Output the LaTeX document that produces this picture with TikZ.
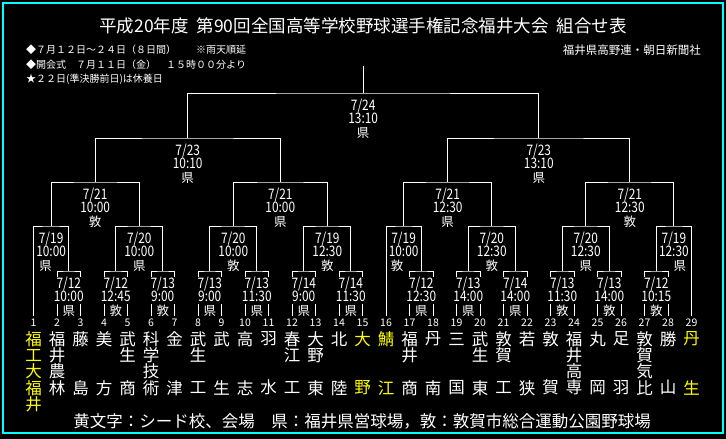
\documentclass[tikz,border=0pt]{standalone}
\usepackage{fontspec}
\setmainfont{Noto Sans CJK JP}
\usetikzlibrary{calc}
\definecolor{cyanb}{HTML}{00FFFF}
\definecolor{yel}{HTML}{FFFF00}
\newcommand\fsz[1]{\fontsize{#1}{#1}\selectfont}
\newcommand\narr[1]{\scalebox{0.82}[1]{#1}}
\newcommand\teamch[4][nm]{\node[#1] (c#2-#3) at ({33.5+(#2-1)*23.5},{339+(#3-1)*16.25}) {#4};}
\newcommand\matchlbl[5][0]{%
  \node[dt] (#2-d) at ($(#2)+(0,13)$) {\narr{#3}};
  \node[dt] (#2-t) at ($(#2)+(0,26.5)$) {\narr{#4}};
  \node[vn] (#2-v) at ($(#2)+(#1,40)$) {#5};}
\begin{document}
\begin{tikzpicture}[x=1pt,y=-1pt,
  ln/.style={draw=white,line width=1pt},
  dt/.style={fill=black,text=white,font=\fsz{14.5},inner xsep=0.3pt,inner ysep=0pt,text height=10pt,text depth=2pt,minimum height=13.5pt},
  vn/.style={fill=black,text=white,font=\fsz{12.5},inner sep=0.3pt},
  num/.style={text=white,font=\fsz{10.5},inner sep=0pt},
  nm/.style={text=white,font=\fsz{16.5},inner sep=0pt},
  seed/.style={nm,text=yel},
  hd/.style={text=white,font=\fsz{10},inner sep=0pt,anchor=west}]
\useasboundingbox (0,0) rectangle (726,439);
\fill[black] (0,0) rectangle (726,439);
\draw[cyanb,line width=1.5pt] (3,3) rectangle (723,433);

% header
\node[text=white,font=\fsz{17.5},inner sep=0pt] (title) at (363,26) {平成20年度\hspace{8pt}第90回全国高等学校野球選手権記念福井大会\hspace{8pt}組合せ表};
\node[hd] (h1) at (26,50) {◆７月１２日～２４日（８日間）　　※雨天順延};
\node[hd] (h2) at (26,65) {◆開会式　７月１１日（金）　１５時００分より};
\node[hd] (h3) at (26,79) {★２２日(準決勝前日)は休養日};
\node[text=white,font=\fsz{11.5},inner sep=0pt,anchor=east] (org) at (701,50) {福井県高野連・朝日新聞社};
\node[text=white,font=\fsz{16.5},inner sep=0pt] (legend) at (362,421) {黄文字：シード校、会場　県：福井県営球場，敦：敦賀市総合運動公園野球場};

% team line ends and numbers
\foreach \i in {1,...,29} {
  \coordinate (t\i) at ({33.5+(\i-1)*23.5},316);
  \node[num] (n\i) at ({33.5+(\i-1)*23.5},322.5) {\i};
}

% round 1 joints
\coordinate (p2) at (68.75,271);
\coordinate (p4) at (115.75,271);
\coordinate (p6) at (162.75,271);
\coordinate (p8) at (209.75,271);
\coordinate (p10) at (256.75,271);
\coordinate (p12) at (303.75,271);
\coordinate (p14) at (350.75,271);
\coordinate (p17) at (421.25,271);
\coordinate (p19) at (468.25,271);
\coordinate (p21) at (515.25,271);
\coordinate (p23) at (562.25,271);
\coordinate (p25) at (609.25,271);
\coordinate (p27) at (656.25,271);
% round 2
\coordinate (A) at (51.125,226);
\coordinate (B) at (139.25,226);
\coordinate (C) at (233.25,226);
\coordinate (D) at (327.25,226);
\coordinate (E) at (403.625,226);
\coordinate (F) at (491.75,226);
\coordinate (G) at (585.75,226);
\coordinate (H) at (673.875,226);
% round 3
\coordinate (AB) at (95.19,182);
\coordinate (CD) at (280.25,182);
\coordinate (EF) at (447.69,182);
\coordinate (GH) at (629.81,182);
% semifinals
\coordinate (SL) at (187.72,138);
\coordinate (SR) at (538.75,138);
% final
\coordinate (fin) at (363.2,93);
\coordinate (champ) at (363.2,66);

% connectors
\draw[ln] (t2) |- (p2) -| (t3);
\draw[ln] (t4) |- (p4) -| (t5);
\draw[ln] (t6) |- (p6) -| (t7);
\draw[ln] (t8) |- (p8) -| (t9);
\draw[ln] (t10) |- (p10) -| (t11);
\draw[ln] (t12) |- (p12) -| (t13);
\draw[ln] (t14) |- (p14) -| (t15);
\draw[ln] (t17) |- (p17) -| (t18);
\draw[ln] (t19) |- (p19) -| (t20);
\draw[ln] (t21) |- (p21) -| (t22);
\draw[ln] (t23) |- (p23) -| (t24);
\draw[ln] (t25) |- (p25) -| (t26);
\draw[ln] (t27) |- (p27) -| (t28);
\draw[ln] (t1) |- (A) -| (p2);
\draw[ln] (p4) |- (B) -| (p6);
\draw[ln] (p8) |- (C) -| (p10);
\draw[ln] (p12) |- (D) -| (p14);
\draw[ln] (t16) |- (E) -| (p17);
\draw[ln] (p19) |- (F) -| (p21);
\draw[ln] (p23) |- (G) -| (p25);
\draw[ln] (p27) |- (H) -| (t29);
\draw[ln] (A) |- (AB) -| (B);
\draw[ln] (C) |- (CD) -| (D);
\draw[ln] (E) |- (EF) -| (F);
\draw[ln] (G) |- (GH) -| (H);
\draw[ln] (AB) |- (SL) -| (CD);
\draw[ln] (EF) |- (SR) -| (GH);
\draw[ln] (SL) |- (fin) -| (SR);
\draw[ln] (fin) -- (champ);

% match labels
\matchlbl{p2}{7/12}{10:00}{県}
\matchlbl{p4}{7/12}{12:45}{敦}
\matchlbl{p6}{7/13}{9:00}{敦}
\matchlbl{p8}{7/13}{9:00}{県}
\matchlbl{p10}{7/13}{11:30}{県}
\matchlbl{p12}{7/14}{9:00}{県}
\matchlbl{p14}{7/14}{11:30}{県}
\matchlbl{p17}{7/12}{12:30}{県}
\matchlbl{p19}{7/13}{14:00}{県}
\matchlbl{p21}{7/14}{14:00}{県}
\matchlbl{p23}{7/13}{11:30}{敦}
\matchlbl{p25}{7/13}{14:00}{敦}
\matchlbl{p27}{7/12}{10:15}{敦}
\matchlbl[-5.5]{A}{7/19}{10:00}{県}
\matchlbl{B}{7/20}{10:00}{県}
\matchlbl{C}{7/20}{10:00}{敦}
\matchlbl{D}{7/19}{12:30}{敦}
\matchlbl[-6.5]{E}{7/19}{10:00}{敦}
\matchlbl{F}{7/20}{12:30}{敦}
\matchlbl{G}{7/20}{12:30}{県}
\matchlbl[6]{H}{7/19}{12:30}{県}
\matchlbl{AB}{7/21}{10:00}{敦}
\matchlbl{CD}{7/21}{10:00}{県}
\matchlbl{EF}{7/21}{12:30}{県}
\matchlbl{GH}{7/21}{12:30}{敦}
\matchlbl{SL}{7/23}{10:10}{県}
\matchlbl{SR}{7/23}{13:10}{県}
\matchlbl{fin}{7/24}{13:10}{県}

% team names
\teamch[seed]{1}{1}{福}\teamch[seed]{1}{2}{工}\teamch[seed]{1}{3}{大}\teamch[seed]{1}{4}{福}\teamch[seed]{1}{5}{井}
\teamch{2}{1}{福}\teamch{2}{2}{井}\teamch{2}{3}{農}\teamch{2}{4}{林}
\teamch{3}{1}{藤}\teamch{3}{4}{島}
\teamch{4}{1}{美}\teamch{4}{4}{方}
\teamch{5}{1}{武}\teamch{5}{2}{生}\teamch{5}{4}{商}
\teamch{6}{1}{科}\teamch{6}{2}{学}\teamch{6}{3}{技}\teamch{6}{4}{術}
\teamch{7}{1}{金}\teamch{7}{4}{津}
\teamch{8}{1}{武}\teamch{8}{2}{生}\teamch{8}{4}{工}
\teamch{9}{1}{武}\teamch{9}{4}{生}
\teamch{10}{1}{高}\teamch{10}{4}{志}
\teamch{11}{1}{羽}\teamch{11}{4}{水}
\teamch{12}{1}{春}\teamch{12}{2}{江}\teamch{12}{4}{工}
\teamch{13}{1}{大}\teamch{13}{2}{野}\teamch{13}{4}{東}
\teamch{14}{1}{北}\teamch{14}{4}{陸}
\teamch[seed]{15}{1}{大}\teamch[seed]{15}{4}{野}
\teamch[seed]{16}{1}{鯖}\teamch[seed]{16}{4}{江}
\teamch{17}{1}{福}\teamch{17}{2}{井}\teamch{17}{4}{商}
\teamch{18}{1}{丹}\teamch{18}{4}{南}
\teamch{19}{1}{三}\teamch{19}{4}{国}
\teamch{20}{1}{武}\teamch{20}{2}{生}\teamch{20}{4}{東}
\teamch{21}{1}{敦}\teamch{21}{2}{賀}\teamch{21}{4}{工}
\teamch{22}{1}{若}\teamch{22}{4}{狭}
\teamch{23}{1}{敦}\teamch{23}{4}{賀}
\teamch{24}{1}{福}\teamch{24}{2}{井}\teamch{24}{3}{高}\teamch{24}{4}{専}
\teamch{25}{1}{丸}\teamch{25}{4}{岡}
\teamch{26}{1}{足}\teamch{26}{4}{羽}
\teamch{27}{1}{敦}\teamch{27}{2}{賀}\teamch{27}{3}{気}\teamch{27}{4}{比}
\teamch{28}{1}{勝}\teamch{28}{4}{山}
\teamch[seed]{29}{1}{丹}\teamch[seed]{29}{4}{生}
\end{tikzpicture}
\end{document}
